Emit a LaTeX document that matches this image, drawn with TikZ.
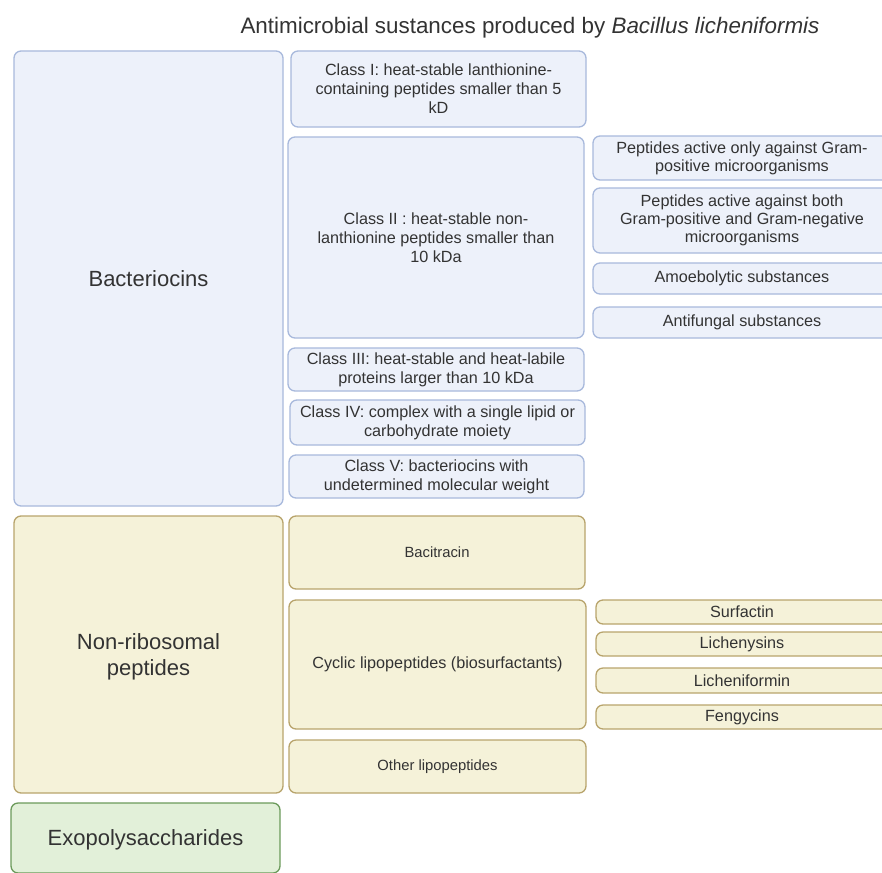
\documentclass[tikz,border=0pt]{standalone}
\usepackage{fontspec}
\setmainfont{Liberation Sans}
\definecolor{bfill}{HTML}{EDF1FA}
\definecolor{bdraw}{HTML}{A8B9DC}
\definecolor{yfill}{HTML}{F5F2D9}
\definecolor{ydraw}{HTML}{B8A46C}
\definecolor{gfill}{HTML}{E2F0D9}
\definecolor{gdraw}{HTML}{6B9A5B}
\definecolor{txt}{HTML}{333333}
\tikzset{
  base/.style={rectangle, rounded corners=7pt, line width=1.3pt, inner sep=0pt, align=center, text=txt},
  bluebox/.style={base, fill=bfill, draw=bdraw},
  yelbox/.style={base, fill=yfill, draw=ydraw},
  grnbox/.style={base, fill=gfill, draw=gdraw},
  big/.style={font=\fontsize{22}{26}\selectfont, text depth=0pt},
  mid/.style={font=\fontsize{16.2}{19}\selectfont},
  midr/.style={font=\fontsize{16.2}{18}\selectfont},
  sml/.style={font=\fontsize{14.8}{17}\selectfont},
}
\begin{document}
\begin{tikzpicture}[x=1pt,y=-1pt]
\useasboundingbox (0,0) rectangle (882,872);
\clip (0,0) rectangle (882,872);
\node[text=txt, font=\fontsize{22.4}{26}\selectfont, text depth=0pt] (title) at (530,25) {Antimicrobial sustances produced by \textit{Bacillus licheniformis}};
% Bacteriocins
\node[bluebox, big, minimum width=269, minimum height=455] (bac) at (148.5,278.5) {Bacteriocins};
\node[bluebox, mid, minimum width=295, minimum height=76] (c1) at (438.5,89) {Class I: heat-stable lanthionine-\\containing peptides smaller than 5\\kD};
\node[bluebox, mid, minimum width=296, minimum height=201] (c2) at (436,237.5) {Class II : heat-stable non-\\lanthionine peptides smaller than\\10 kDa};
\node[bluebox, mid, minimum width=296, minimum height=43] (c3) at (436,369.5) {Class III: heat-stable and heat-labile\\proteins larger than 10 kDa};
\node[bluebox, mid, minimum width=295, minimum height=45] (c4) at (437.5,422.5) {Class IV: complex with a single lipid or\\carbohydrate moiety};
\node[bluebox, mid, minimum width=295, minimum height=43] (c5) at (436.5,476.5) {Class V: bacteriocins with\\undetermined molecular weight};
\node[bluebox, midr, minimum width=298, minimum height=44] (p1) at (742,158) {Peptides active only against Gram-\\positive microorganisms};
\node[bluebox, midr, minimum width=298, minimum height=65] (p2) at (742,220.5) {Peptides active against both\\Gram-positive and Gram-negative\\microorganisms};
\node[bluebox, mid, minimum width=298, minimum height=31] (p3) at (742,278.5) {Amoebolytic substances};
\node[bluebox, mid, minimum width=298, minimum height=31] (p4) at (742,322.5) {Antifungal substances};
% Non-ribosomal peptides
\node[yelbox, big, minimum width=269, minimum height=277] (nrp) at (148.5,654.5) {Non-ribosomal\\peptides};
\node[yelbox, sml, minimum width=296, minimum height=73] (baci) at (437,552.5) {Bacitracin};
\node[yelbox, mid, minimum width=297, minimum height=129] (cyc) at (437.5,664.5) {Cyclic lipopeptides (biosurfactants)};
\node[yelbox, sml, minimum width=297, minimum height=53] (oth) at (437.5,766.5) {Other lipopeptides};
\node[yelbox, mid, minimum width=292, minimum height=24] (surf) at (742,612) {Surfactin};
\node[yelbox, mid, minimum width=292, minimum height=24] (lichy) at (742,644) {Lichenysins};
\node[yelbox, mid, minimum width=292, minimum height=25] (lichf) at (742,680.5) {Licheniformin};
\node[yelbox, mid, minimum width=292, minimum height=24] (feng) at (742,717) {Fengycins};
% Exopolysaccharides
\node[grnbox, big, minimum width=269, minimum height=70] (exo) at (145.5,838) {Exopolysaccharides};
\end{tikzpicture}
\end{document}
